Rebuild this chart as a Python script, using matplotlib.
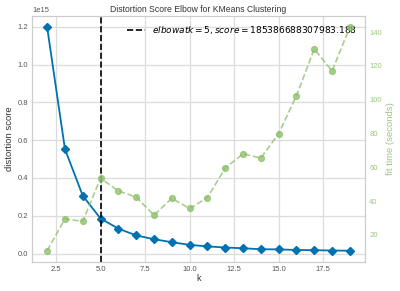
import matplotlib
matplotlib.use("Agg")
import matplotlib.pyplot as plt

k_values = list(range(2, 20))
distortion = [1.198e15, 0.553e15, 0.306e15, 0.1854e15, 0.132e15, 0.096e15,
              0.076e15, 0.060e15, 0.046e15, 0.038e15, 0.032e15, 0.028e15,
              0.023e15, 0.022e15, 0.019e15, 0.018e15, 0.016e15, 0.015e15]
fit_time = [10.6, 29.4, 28.0, 53.5, 46.0, 42.4, 31.6, 41.6, 35.6, 42.0,
            59.5, 67.9, 65.5, 79.8, 102.3, 130.0, 117.0, 142.9]
elbow_k = 5
elbow_score = 185386688307983.188

BLUE = "#0072B2"
GREEN = "#8cbf6a"
GREEN_TXT = "#9cc67e"
GRID = "#dcdcdc"

plt.rcParams["font.family"] = ["Liberation Sans", "DejaVu Sans"]
plt.rcParams["font.size"] = 6

fig, ax = plt.subplots(figsize=(4.0, 2.91), dpi=100)
fig.subplots_adjust(left=0.08, right=0.9125, top=0.945, bottom=0.10)

ax.plot(k_values, distortion, marker="D", color=BLUE, lw=1.3, ms=4.2)
ax.axvline(elbow_k, c="k", ls="--", lw=1.2,
           label="$elbow at k = {}, score = {:0.3f}$".format(elbow_k, elbow_score))
ax.set_title("Distortion Score Elbow for KMeans Clustering", fontsize=6.2, color="#333333", pad=3)
ax.set_xlabel("k", color="#333333", labelpad=1, fontsize=6.5)
ax.set_ylabel("distortion score", color="#333333", labelpad=2, fontsize=6.8)
ax.grid(True, color=GRID, lw=0.9)
ax.set_axisbelow(True)
ax.tick_params(length=0, colors="#555555", labelsize=5.5, pad=3)
ax.yaxis.get_offset_text().set_fontsize(5.5)
ax.yaxis.get_offset_text().set_color("#555555")
for s in ax.spines.values():
    s.set_color("#cccccc")
    s.set_linewidth(0.8)
ax.legend(loc="best", frameon=False, fontsize=6.5)

ax2 = ax.twinx()
ax2.plot(k_values, fit_time, color=GREEN, marker="o", ls="--", alpha=0.75, lw=1.2, ms=4.2)
ax2.set_ylabel("fit time (seconds)", color=GREEN_TXT, labelpad=3, fontsize=6.8)
ax2.tick_params("y", colors=GREEN_TXT, length=0, labelsize=5.5, pad=3)
ax2.grid(False)
for s in ax2.spines.values():
    s.set_color("#cccccc")
    s.set_linewidth(0.8)

fig.savefig("out.png", dpi=100)
